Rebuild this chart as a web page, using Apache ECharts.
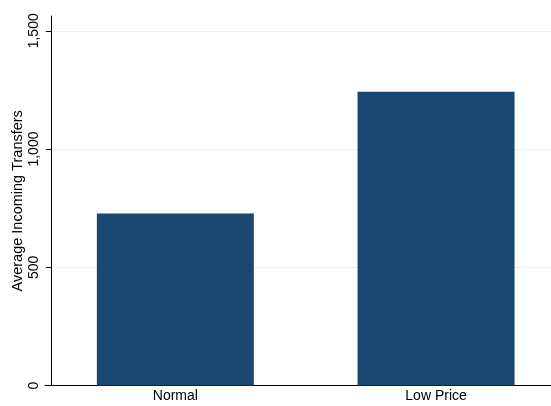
<!DOCTYPE html>
<html><head><meta charset="utf-8">
<script src="https://cdn.jsdelivr.net/npm/echarts@6/dist/echarts.min.js"></script>
<style>html,body{margin:0;padding:0;background:#fff}#c{width:551px;height:406px}</style>
</head><body><div id="c"></div>
<script>
const categories = ["Normal", "Low Price"];
const values = [728, 1242];
const yTicks = [0, 500, 1000, 1500];
const yTitle = "Average Incoming Transfers";

const chart = echarts.init(document.getElementById('c'), null, {renderer: 'canvas'});
chart.setOption({
  animation: false,
  backgroundColor: '#ffffff',
  grid: {left: 45, top: 16, right: -15.4, bottom: 20.4, containLabel: false, outerBoundsMode: 'none'},
  xAxis: {
    type: 'category',
    data: categories,
    boundaryGap: true,
    axisLine: {show: true, lineStyle: {color: '#000', width: 1}},
    axisTick: {show: false},
    axisLabel: {color: '#000', fontFamily: 'Liberation Sans, Arial', fontSize: 14, margin: 4}
  },
  yAxis: {
    type: 'value',
    min: 0, max: 1562.5, interval: 500,
    offset: -6,
    name: yTitle,
    nameLocation: 'middle',
    nameGap: 26,
    nameMoveOverlap: false,
    nameTextStyle: {color: '#000', fontFamily: 'Liberation Sans, Arial', fontSize: 14.5},
    axisLine: {show: true, lineStyle: {color: '#000', width: 1}},
    axisTick: {show: true, length: 5, lineStyle: {color: '#000'}},
    axisLabel: {
      color: '#000', fontFamily: 'Liberation Sans, Arial', fontSize: 14,
      rotate: 90, margin: 10, showMaxLabel: false,
      formatter: v => yTicks.includes(v) ? v.toLocaleString('en-US') : ''
    },
    splitLine: {show: true, showMinLine: false, showMaxLine: false, lineStyle: {color: '#eaf2f3', width: 1}}
  },
  series: [{
    type: 'bar',
    data: values,
    barWidth: 157,
    itemStyle: {color: '#1a476f'}
  }]
});
</script></body></html>
